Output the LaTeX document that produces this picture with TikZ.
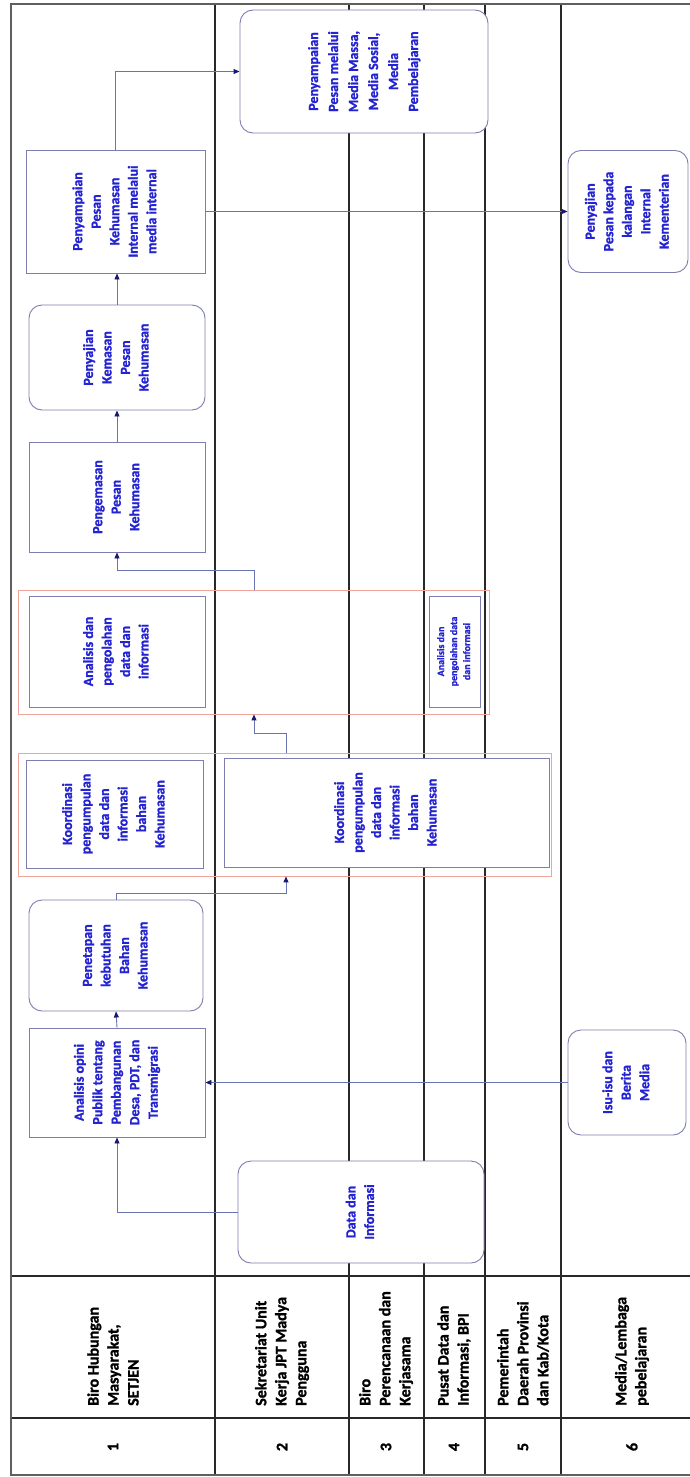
\documentclass[tikz,border=0pt]{standalone}
\usepackage{fontspec}
\setmainfont{Carlito}[BoldFont={Carlito Bold},BoldFeatures={FakeBold=1.3}]
\usepackage{graphicx}
\usetikzlibrary{arrows.meta,calc}
\definecolor{txtblue}{RGB}{35,35,210}
\definecolor{boxline}{RGB}{125,125,175}
\definecolor{connline}{RGB}{105,115,175}
\definecolor{arrowfill}{RGB}{25,25,110}
\definecolor{grpred}{RGB}{240,165,155}
\definecolor{laneline}{RGB}{40,40,40}
\definecolor{outerline}{RGB}{95,95,95}
\newcommand{\rtext}[3]{\rotatebox{90}{\fontsize{#1}{#2}\selectfont\bfseries\begin{tabular}{@{}c@{}}#3\end{tabular}}}
\tikzset{
  box/.style={draw=boxline, line width=0.9pt, fill=white, text=txtblue, font=\bfseries, inner sep=0pt},
  rbox/.style={box, rounded corners=13pt},
  grp/.style={draw=grpred, line width=0.8pt, inner sep=0pt},
  lane/.style={draw=laneline, line width=1.2pt},
  outer/.style={draw=outerline, line width=2pt},
  conn/.style={draw=connline, line width=0.9pt, -{Triangle[length=6pt,width=5pt,color=arrowfill,fill=arrowfill]}},
  head/.style={rotate=90, anchor=west, align=left, font=\fontsize{16}{20}\selectfont\bfseries, inner sep=0pt},
  num/.style={rotate=90, font=\fontsize{16}{20}\selectfont\bfseries, inner sep=0pt}
}
\begin{document}
\begin{tikzpicture}[x=1pt,y=-1pt]
\useasboundingbox (0,0) rectangle (690,1477);
\fill[white] (0,0) rectangle (690,1477);
% lanes
\foreach \lx in {215,349,424,485,561} {\draw[lane] (\lx,4) -- (\lx,1475);}
\draw[lane] (11,1276) -- (690,1276);
\draw[lane] (11,1418) -- (690,1418);
\draw[outer] (690,4) -- (11,4) -- (11,1475) -- (690,1475);
% header labels
\node[head] (h1) at (113,1406) {Biro Hubungan\\Masyarakat,\\SETJEN};
\node[head] (h2) at (282,1406) {Sekretariat Unit\\Kerja JPT Madya\\Pengguna};
\node[head] (h3) at (386,1406) {Biro\\Perencanaan dan\\Kerjasama};
\node[head] (h4) at (454,1406) {Pusat Data dan\\Informasi, BPI};
\node[head] (h5) at (523,1406) {Pemerintah\\Daerah Provinsi\\dan Kab/Kota};
\node[head] (h6) at (632,1406) {Media/Lembaga\\pebelajaran};
\node[num] (n1) at (113,1447) {1};
\node[num] (n2) at (282,1447) {2};
\node[num] (n3) at (386,1447) {3};
\node[num] (n4) at (454,1447) {4};
\node[num] (n5) at (523,1447) {5};
\node[num] (n6) at (632,1447) {6};
% groups
\node[grp, minimum width=471, minimum height=124] (grpA) at (253.5,652) {};
\node[grp, minimum width=533, minimum height=123] (grpB) at (284.5,814.5) {};
% nodes
\node[rbox, minimum width=248, minimum height=123] (media) at (364,71.5)
  {\rtext{14}{20}{Penyampaian\\Pesan melalui\\Media Massa,\\Media Sosial,\\Media\\Pembelajaran}};
\node[box, minimum width=179, minimum height=123] (internal) at (115.5,211.5)
  {\rtext{14}{18.5}{Penyampaian\\Pesan\\Kehumasan\\Internal melalui\\media internal}};
\node[rbox, minimum width=120, minimum height=122] (kepada) at (628,211.5)
  {\rtext{14}{18.5}{Penyajian\\Pesan kepada\\kalangan\\Internal\\Kementerian}};
\node[rbox, minimum width=176, minimum height=105] (kemasan) at (117,357.5)
  {\rtext{14}{18.5}{Penyajian\\Kemasan\\Pesan\\Kehumasan}};
\node[box, minimum width=176, minimum height=110] (pengemasan) at (117,497)
  {\rtext{14}{18.5}{Pengemasan\\Pesan\\Kehumasan}};
\node[box, minimum width=176, minimum height=111] (analisis) at (117,651.5)
  {\rtext{14}{18.5}{Analisis dan\\pengolahan\\data dan\\informasi}};
\node[box, minimum width=51, minimum height=111] (analisis4) at (454.5,651.5)
  {\rtext{10}{13}{Analisis dan\\pengolahan data\\dan informasi}};
\node[box, minimum width=177, minimum height=108] (koorL) at (114.5,814)
  {\rtext{14}{18.5}{Koordinasi\\pengumpulan\\data dan\\informasi\\bahan\\Kehumasan}};
\node[box, minimum width=325, minimum height=109] (koorR) at (386.5,812.5)
  {\rtext{14}{18.5}{Koordinasi\\pengumpulan\\data dan\\informasi\\bahan\\Kehumasan}};
\node[rbox, minimum width=174, minimum height=111] (penetapan) at (116,955.5)
  {\rtext{14}{18.5}{Penetapan\\kebutuhan\\Bahan\\Kehumasan}};
\node[box, minimum width=176, minimum height=109] (opini) at (117,1082.5)
  {\rtext{14}{18.5}{Analisis opini\\Publik tentang\\Pembangunan\\Desa, PDT, dan\\Transmigrasi}};
\node[rbox, minimum width=118, minimum height=105] (isu) at (627,1082.5)
  {\rtext{14}{18.5}{Isu-isu dan\\Berita\\Media}};
\node[rbox, minimum width=246, minimum height=102] (data) at (361,1212)
  {\rtext{14}{18.5}{Data dan\\Informasi}};
% connectors
\coordinate (xB) at (286,0);
\coordinate (xA) at (254,0);
\draw[conn] (data.west) -| (opini.south);
\draw[conn] (isu.west) -- (opini.east);
\draw[conn] (opini.north) -- (penetapan.south);
\draw[conn] (penetapan.north) |- (286,893) -- (grpB.south -| xB);
\draw[conn] (grpB.north -| xB) |- (254,733) -- (grpA.south -| xA);
\draw[conn] (grpA.north -| xA) |- (117,570) -- (pengemasan.south);
\draw[conn] (pengemasan.north) -- (kemasan.south);
\draw[conn] (kemasan.north) -- (internal.south -| kemasan.north);
\draw[conn] (internal.north) |- (media.west);
\draw[conn] (internal.east) -- (kepada.west);
\end{tikzpicture}
\end{document}
